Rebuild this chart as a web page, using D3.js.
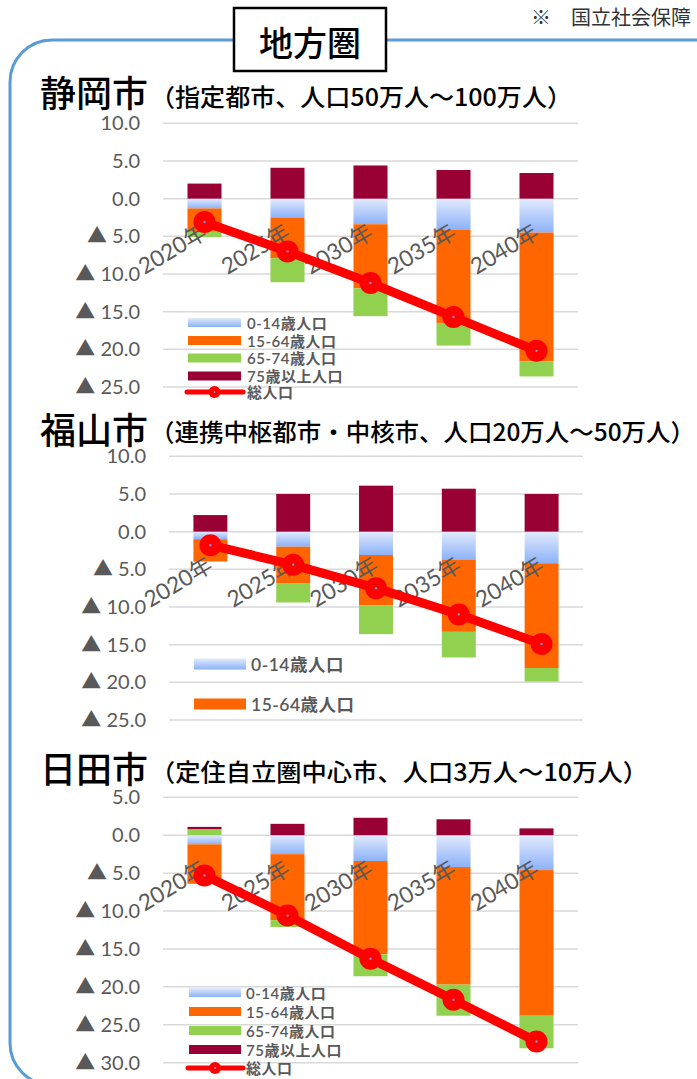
<!DOCTYPE html>
<html lang="ja">
<head>
<meta charset="utf-8">
<script src="https://cdn.jsdelivr.net/npm/d3@7"></script>
<style>
  html, body { margin: 0; padding: 0; background: #fff; }
  svg { display: block; }
  text { font-family: Lato, "Noto Sans CJK JP", sans-serif; }
  .cjk { font-family: "Noto Sans CJK JP", sans-serif; }
</style>
</head>
<body>
<svg id="chart" width="697" height="1079"></svg>
<script>
// ---- data (change from base year, 千人) ----
const years = ["2020年", "2025年", "2030年", "2035年", "2040年"];
const seriesKeys = ["age0to14", "age15to64", "age65to74", "age75plus"];
const seriesLabels = ["0-14歳人口", "15-64歳人口", "65-74歳人口", "75歳以上人口"];
const totalLabel = "総人口";

// 静岡市
const shizuokaAge0to14  = [-1.3, -2.5, -3.4, -4.1, -4.5];
const shizuokaAge15to64 = [-3.1, -5.4, -8.5, -12.4, -17.1];
const shizuokaAge65to74 = [-0.7, -3.2, -3.7, -3.0, -2.0];
const shizuokaAge75plus = [2.0, 4.1, 4.4, 3.8, 3.4];
const shizuokaTotal     = [-3.1, -7.0, -11.2, -15.7, -20.2];

// 福山市
const fukuyamaAge0to14  = [-1.0, -2.0, -3.1, -3.7, -4.2];
const fukuyamaAge15to64 = [-2.9, -4.9, -6.7, -9.6, -13.9];
const fukuyamaAge65to74 = [-0.1, -2.5, -3.8, -3.4, -1.8];
const fukuyamaAge75plus = [2.2, 5.0, 6.1, 5.7, 5.0];
const fukuyamaTotal     = [-1.8, -4.4, -7.5, -11.0, -14.9];

// 日田市
const hitaAge0to14  = [-1.2, -2.5, -3.4, -4.2, -4.6];
const hitaAge15to64 = [-5.2, -8.7, -12.3, -15.5, -19.2];
const hitaAge65to74 = [0.8, -0.9, -2.9, -4.1, -4.3];
const hitaAge75plus = [0.3, 1.5, 2.3, 2.1, 0.9];
const hitaTotal     = [-5.3, -10.6, -16.3, -21.7, -27.2];

// y-axis ticks per panel
const shizuokaTicks = [10, 5, 0, -5, -10, -15, -20, -25];
const fukuyamaTicks = [10, 5, 0, -5, -10, -15, -20, -25];
const hitaTicks     = [5, 0, -5, -10, -15, -20, -25, -30];

const colors = {
  age0to14: "url(#grad014)",
  age15to64: "#FF6600",
  age65to74: "#92D050",
  age75plus: "#990033",
  total: "#FF0000"
};

// ---- panel layout ----
const panels = [
  {
    name: "静岡市", sub: "（指定都市、人口50万人～100万人）", subLen: 422,
    titleY: 91, subY: 95.5,
    values: [shizuokaAge0to14, shizuokaAge15to64, shizuokaAge65to74, shizuokaAge75plus],
    total: shizuokaTotal, ticks: shizuokaTicks,
    left: 163, right: 578, yTop: 123.3, yBottom: 387,
    legend: { x: 188, w: 53, h: 9, textX: 247, fs: 15,
              rows: [322.5, 340.5, 358, 376, 392], items: [0, 1, 2, 3, 4] }
  },
  {
    name: "福山市", sub: "（連携中枢都市・中核市、人口20万人～50万人）", subLen: 545,
    titleY: 428, subY: 430.5,
    values: [fukuyamaAge0to14, fukuyamaAge15to64, fukuyamaAge65to74, fukuyamaAge75plus],
    total: fukuyamaTotal, ticks: fukuyamaTicks,
    left: 169, right: 583, yTop: 456.3, yBottom: 720,
    legend: { x: 194, w: 52, h: 11, textX: 251, fs: 17.5,
              rows: [664, 704], items: [0, 1] }
  },
  {
    name: "日田市", sub: "（定住自立圏中心市、人口3万人～10万人）", subLen: 498,
    titleY: 767, subY: 770,
    values: [hitaAge0to14, hitaAge15to64, hitaAge65to74, hitaAge75plus],
    total: hitaTotal, ticks: hitaTicks,
    left: 163, right: 578, yTop: 797.3, yBottom: 1062.7,
    legend: { x: 189, w: 52, h: 9, textX: 246, fs: 15,
              rows: [992.5, 1011.5, 1030.5, 1049.5, 1068], items: [0, 1, 2, 3, 4] }
  }
];

const svg = d3.select("#chart");
const defs = svg.append("defs");
const grad = defs.append("linearGradient")
  .attr("id", "grad014").attr("x1", 0).attr("y1", 0).attr("x2", 0).attr("y2", 1);
grad.append("stop").attr("offset", "0%").attr("stop-color", "#e2eafc");
grad.append("stop").attr("offset", "100%").attr("stop-color", "#8cb2f9");

// outer rounded frame
svg.append("rect")
  .attr("x", 10).attr("y", 40).attr("width", 760).attr("height", 1045)
  .attr("rx", 42).attr("ry", 42)
  .attr("fill", "none").attr("stroke", "#5B9BD5").attr("stroke-width", 3);

// region label box
svg.append("rect")
  .attr("x", 234).attr("y", 8).attr("width", 152).attr("height", 63)
  .attr("fill", "#fff").attr("stroke", "#000").attr("stroke-width", 2.5);
svg.append("text").attr("class", "cjk")
  .attr("x", 310).attr("y", 41).attr("text-anchor", "middle")
  .attr("dominant-baseline", "central")
  .attr("font-size", 34).attr("font-weight", 500).attr("fill", "#000")
  .text("地方圏");

// source note (runs to the right edge)
svg.append("text").attr("class", "cjk")
  .attr("x", 531).attr("y", 16).attr("dominant-baseline", "central")
  .attr("font-size", 20).attr("fill", "#333")
  .text("※　国立社会保障");

const tickFmt = v => v < 0 ? "▲ " + d3.format(".1f")(-v) : d3.format(".1f")(v);

panels.forEach(p => {
  const g = svg.append("g");

  // titles
  g.append("text").attr("class", "cjk")
    .attr("x", 40).attr("y", p.titleY).attr("dominant-baseline", "central")
    .attr("font-size", 36).attr("font-weight", 500).attr("fill", "#000")
    .text(p.name);
  g.append("text").attr("class", "cjk")
    .attr("x", 150).attr("y", p.subY).attr("dominant-baseline", "central")
    .attr("font-size", 24).attr("font-weight", 500).attr("fill", "#000")
    .attr("textLength", p.subLen).attr("lengthAdjust", "spacingAndGlyphs")
    .text(p.sub);

  const domainMax = d3.max(p.ticks), domainMin = d3.min(p.ticks);
  const y = d3.scaleLinear().domain([domainMax, domainMin]).range([p.yTop, p.yBottom]);
  const x = d3.scaleBand().domain(years).range([p.left, p.right])
    .paddingInner(0.59).paddingOuter(0.295);

  // gridlines
  g.append("g").selectAll("line").data(p.ticks).join("line")
    .attr("x1", p.left).attr("x2", p.right)
    .attr("y1", d => y(d)).attr("y2", d => y(d))
    .attr("stroke", "#d9d9d9").attr("stroke-width", 1.5);

  // y axis labels
  const yAxis = d3.axisLeft(y).tickValues(p.ticks).tickFormat(tickFmt).tickSize(0).tickPadding(0);
  const ya = g.append("g").attr("transform", `translate(${p.left - 23},0)`).call(yAxis);
  ya.select(".domain").remove();
  ya.selectAll("text").attr("font-size", 20).attr("fill", "#595959")
    .attr("font-family", "Lato, 'DejaVu Sans', sans-serif");

  // stacked bars
  const rows = years.map((yr, i) => {
    const r = { year: yr };
    seriesKeys.forEach((k, j) => r[k] = p.values[j][i]);
    return r;
  });
  const stacked = d3.stack().keys(seriesKeys).offset(d3.stackOffsetDiverging)(rows);
  g.append("g").selectAll("g").data(stacked).join("g")
    .attr("fill", s => colors[s.key])
    .selectAll("rect").data(s => s).join("rect")
    .attr("x", d => x(d.data.year))
    .attr("width", x.bandwidth())
    .attr("y", d => y(Math.max(d[0], d[1])))
    .attr("height", d => Math.abs(y(d[0]) - y(d[1])));

  // category labels
  g.append("g").selectAll("text").data(years).join("text")
    .attr("transform", d => `translate(${x(d) + x.bandwidth() / 2 + 4},${y(0) + 38}) rotate(-31)`)
    .attr("text-anchor", "end")
    .attr("font-size", 22.5).attr("fill", "#595959")
    .text(d => d);

  // total line
  const pts = years.map((yr, i) => ({ year: yr, v: p.total[i] }));
  const line = d3.line().x(d => x(d.year) + x.bandwidth() / 2).y(d => y(d.v));
  g.append("path").datum(pts)
    .attr("d", line).attr("fill", "none")
    .attr("stroke", colors.total).attr("stroke-width", 9).attr("stroke-linejoin", "round");
  const mk = g.append("g").selectAll("g").data(pts).join("g")
    .attr("transform", d => `translate(${x(d.year) + x.bandwidth() / 2},${y(d.v)})`);
  mk.append("circle").attr("r", 11).attr("fill", colors.total);
  mk.append("circle").attr("r", 1.2).attr("fill", "#8a8fc8");

  // legend
  const L = p.legend;
  const lg = g.append("g");
  L.items.forEach((idx, r) => {
    const cy = L.rows[r];
    if (idx < 4) {
      lg.append("rect").attr("x", L.x).attr("y", cy - L.h / 2)
        .attr("width", L.w).attr("height", L.h).attr("fill", colors[seriesKeys[idx]]);
    } else {
      lg.append("line").attr("x1", L.x - 1).attr("x2", L.x + L.w + 2)
        .attr("y1", cy).attr("y2", cy)
        .attr("stroke", colors.total).attr("stroke-width", 5).attr("stroke-linecap", "round");
      lg.append("circle").attr("cx", L.x + L.w / 2).attr("cy", cy).attr("r", 6).attr("fill", colors.total);
      lg.append("circle").attr("cx", L.x + L.w / 2).attr("cy", cy).attr("r", 1).attr("fill", "#8a8fc8");
    }
    lg.append("text").attr("x", L.textX).attr("y", cy).attr("dominant-baseline", "central")
      .attr("font-size", L.fs).attr("font-weight", 600).attr("fill", "#595959")
      .attr("letter-spacing", 0.5)
      .text(idx < 4 ? seriesLabels[idx] : totalLabel);
  });
});
</script>
</body>
</html>
